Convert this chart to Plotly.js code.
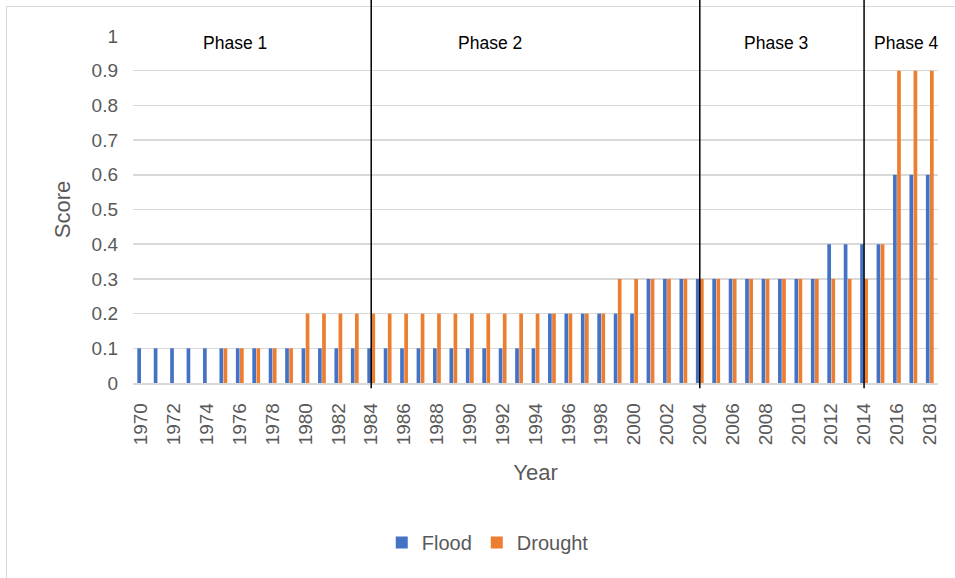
<!DOCTYPE html>
<html>
<head>
<meta charset="utf-8">
<script src="https://cdn.plot.ly/plotly-3.0.1.min.js"></script>
<style>
  html, body { margin: 0; padding: 0; background: #ffffff; overflow: hidden; }
  #frame { position: absolute; left: 6px; top: 6px; width: 980px; height: 600px; border: 1.5px solid #d9d9d9; }
  #chart { position: absolute; left: 0; top: 0; width: 955px; height: 578px; }
</style>
</head>
<body>
<div id="frame"></div>
<div id="chart"></div>
<script>
// ---- data ----
const years = [1970,1971,1972,1973,1974,1975,1976,1977,1978,1979,
               1980,1981,1982,1983,1984,1985,1986,1987,1988,1989,
               1990,1991,1992,1993,1994,1995,1996,1997,1998,1999,
               2000,2001,2002,2003,2004,2005,2006,2007,2008,2009,
               2010,2011,2012,2013,2014,2015,2016,2017,2018];
const flood = [0.1,0.1,0.1,0.1,0.1,0.1,0.1,0.1,0.1,0.1,
               0.1,0.1,0.1,0.1,0.1,0.1,0.1,0.1,0.1,0.1,
               0.1,0.1,0.1,0.1,0.1,0.2,0.2,0.2,0.2,0.2,
               0.2,0.3,0.3,0.3,0.3,0.3,0.3,0.3,0.3,0.3,
               0.3,0.3,0.4,0.4,0.4,0.4,0.6,0.6,0.6];
const drought = [0,0,0,0,0,0.1,0.1,0.1,0.1,0.1,
                 0.2,0.2,0.2,0.2,0.2,0.2,0.2,0.2,0.2,0.2,
                 0.2,0.2,0.2,0.2,0.2,0.2,0.2,0.2,0.2,0.3,
                 0.3,0.3,0.3,0.3,0.3,0.3,0.3,0.3,0.3,0.3,
                 0.3,0.3,0.3,0.3,0.3,0.4,0.9,0.9,0.9];
const seriesNames = ["Flood", "Drought"];
const phaseBoundaries = [1984, 2004, 2014];
const phaseLabels = ["Phase 1", "Phase 2", "Phase 3", "Phase 4"];
const phaseLabelX = [1975.7, 1991.2, 2008.65, 2016.56];
const yTicks = [0,0.1,0.2,0.3,0.4,0.5,0.6,0.7,0.8,0.9,1];

// ---- styling ----
const FONT = "Liberation Sans, Arial, sans-serif";
const GREY = "#595959";

const traces = [
  { type: "bar", name: seriesNames[0], x: years, y: flood, marker: { color: "#4472C4" } },
  { type: "bar", name: seriesNames[1], x: years, y: drought, marker: { color: "#ED7D31" } }
];

const shapes = phaseBoundaries.map(yr => ({
  type: "line", xref: "x", yref: "paper",
  x0: yr, x1: yr, y0: -0.015, y1: 1.11,
  line: { color: "#000000", width: 1.5 }
}));

const annotations = phaseLabels.map((t, i) => ({
  text: t, xref: "x", yref: "paper", x: phaseLabelX[i], y: 0.98,
  showarrow: false, xanchor: "center", yanchor: "middle",
  font: { family: FONT, size: 17.5, color: "#000000" }
}));

const layout = {
  width: 955, height: 578,
  margin: { l: 133, r: 17, t: 36, b: 195 },
  paper_bgcolor: "rgba(0,0,0,0)",
  plot_bgcolor: "rgba(0,0,0,0)",
  barmode: "group",
  bargap: 0.5,
  bargroupgap: 0.1,
  font: { family: FONT, color: GREY },
  xaxis: {
    range: [1969.5, 2018.5],
    tickmode: "linear", tick0: 1970, dtick: 2,
    tickangle: -90,
    tickfont: { family: FONT, size: 19, color: GREY },
    showgrid: false, zeroline: false,
    showline: true, linecolor: "#d9d9d9", linewidth: 1.5,
    ticks: "", ticklabelstandoff: 11,
    title: { text: "Year", font: { family: FONT, size: 22, color: GREY }, standoff: 20 },
    fixedrange: true
  },
  yaxis: {
    range: [0, 1],
    tickmode: "array", tickvals: yTicks, ticktext: yTicks.map(v => String(v)),
    tickfont: { family: FONT, size: 19, color: GREY },
    showgrid: true, gridcolor: "#d9d9d9", gridwidth: 1.5,
    zeroline: false, showline: false,
    ticks: "", ticklabelstandoff: 14,
    title: { text: "Score", font: { family: FONT, size: 22, color: GREY }, standoff: 14 },
    fixedrange: true
  },
  legend: {
    orientation: "h",
    x: 0.309, xanchor: "left",
    y: -0.46, yanchor: "middle",
    font: { family: FONT, size: 20, color: GREY },
    itemwidth: 30
  },
  shapes: shapes,
  annotations: annotations
};

Plotly.newPlot("chart", traces, layout, { displayModeBar: false, staticPlot: true });
</script>
</body>
</html>
